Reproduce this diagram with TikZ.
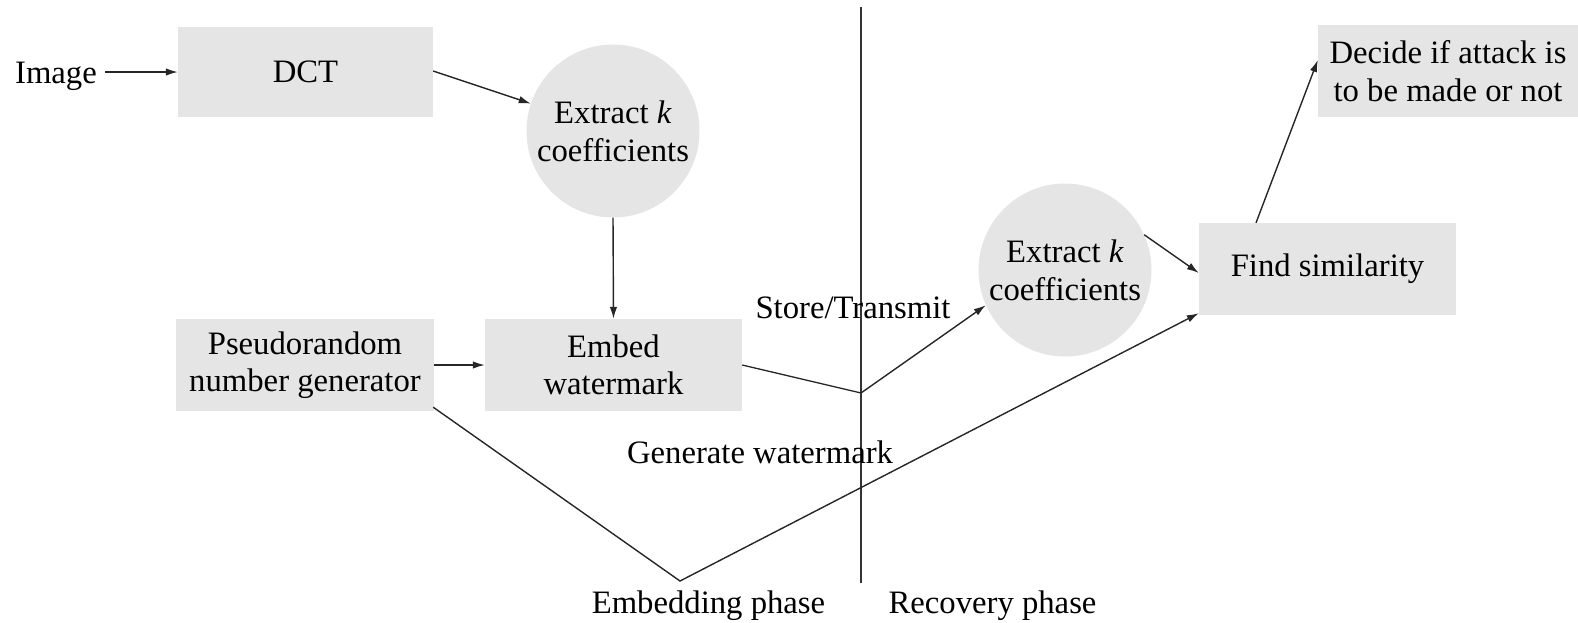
\documentclass[tikz,border=0pt]{standalone}
\usepackage{fontspec}
\setmainfont{Liberation Serif}
\usetikzlibrary{arrows.meta}
\definecolor{boxgray}{HTML}{E5E5E5}
\definecolor{divider}{HTML}{333333}
\begin{document}
\begin{tikzpicture}[x=1pt,y=-1pt,
  every node/.style={font=\fontsize{32.7}{37}\selectfont, text=black},
  procbox/.style={rectangle, fill=boxgray, inner sep=0pt, align=center},
  roundbox/.style={circle, fill=boxgray, inner sep=0pt, align=center,
    minimum size=173pt, font=\fontsize{32.7}{38}\selectfont},
  label/.style={inner sep=0pt, anchor=base},
  flow/.style={line width=1.4pt, draw=black!85,
    -{Latex[length=12pt,width=7.5pt]}},
  plain/.style={line width=1.3pt, draw=black!85}]
  \useasboundingbox (0,0) rectangle (1578,622);

  % embedding side
  \node[procbox, minimum width=255pt, minimum height=90pt] (dct) at (305.5,72) {DCT};
  \node[label] (img) at (56,83) {Image};
  \node[roundbox] (ext1) at (613,131) {Extract \textit{k}\\coefficients};
  \node[procbox, minimum width=258pt, minimum height=92pt] (prng) at (305,365)
    {Pseudorandom\\number generator};
  \node[procbox, minimum width=257pt, minimum height=92pt] (emb) at (613.5,365)
    {Embed\\watermark};

  % recovery side
  \node[roundbox] (ext2) at (1065,270) {Extract \textit{k}\\coefficients};
  \node[procbox, minimum width=257pt, minimum height=92pt] (sim) at (1327.5,269)
    {Find similarity};
  \node[procbox, minimum width=260pt, minimum height=92pt,
    font=\fontsize{32.7}{38}\selectfont] (dec) at (1448,71)
    {Decide if attack is\\to be made or not};

  % phase divider
  \coordinate (divtop) at (861,7);
  \coordinate (divbot) at (861,583);
  \draw[line width=2.4pt, draw=divider] (divtop) -- (divbot);

  % free labels
  \node[label] (store) at (853,318) {Store/Transmit};
  \node[label] (gen) at (760,463) {Generate watermark};
  \node[label] (embph) at (708.5,613) {Embedding phase};
  \node[label] (recph) at (992.5,613) {Recovery phase};

  % junctions
  \coordinate (chan) at (861,393);
  \coordinate (vtx) at (680,581);

  % connectors
  \draw[flow, shorten <=8pt] (img.east |- dct.west) -- (dct.west);
  \draw[flow] ([yshift=1pt]dct.east) -- (ext1);
  \draw[flow] (ext1.south) -- (emb.north);
  \draw[flow] (prng.east) -- (emb.west);
  \draw[plain] (emb.east) -- (chan);
  \draw[flow] (chan) -- (ext2.204);
  \draw[flow] (ext2.24) -- ([yshift=-4pt]sim.west);
  \draw[flow] ([shift={(-1pt,4pt)}]prng.south east) -- (vtx) -- ([yshift=2pt]sim.south west);
  \draw[flow] ([xshift=-71.5pt]sim.north) -- ([yshift=11pt]dec.west);
\end{tikzpicture}
\end{document}
